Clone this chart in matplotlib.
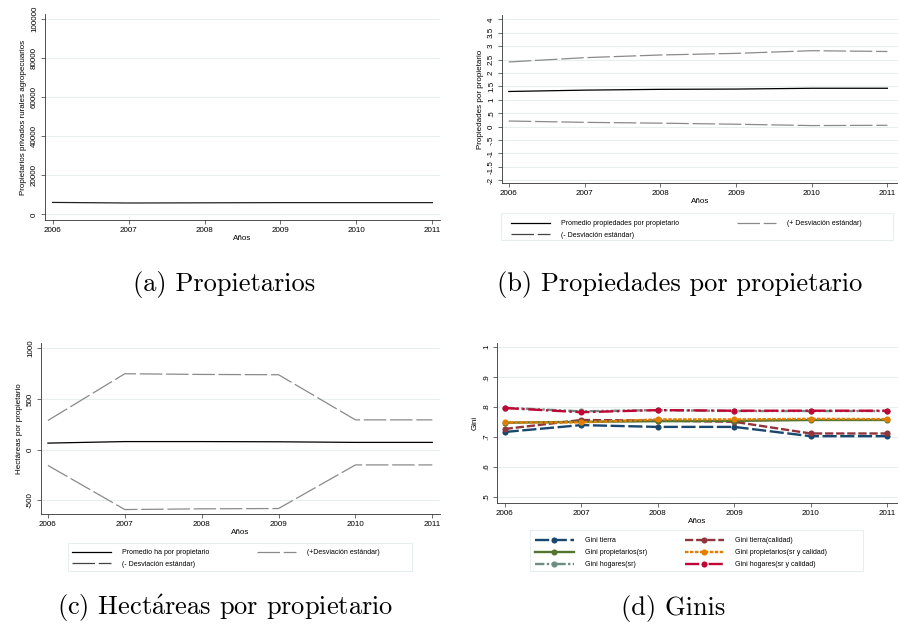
import matplotlib.pyplot as plt
from matplotlib.lines import Line2D
from matplotlib.patches import Rectangle

years = [2006, 2007, 2008, 2009, 2010, 2011]

# (a) Propietarios
propietarios = [6100, 5800, 5900, 6000, 6000, 6000]

# (b) Propiedades por propietario
prop_mean = [1.31, 1.36, 1.39, 1.40, 1.43, 1.43]
prop_plus = [2.41, 2.57, 2.67, 2.73, 2.83, 2.80]
prop_minus = [0.21, 0.16, 0.13, 0.09, 0.04, 0.05]

# (c) Hectareas por propietario
ha_mean = [65, 80, 80, 78, 72, 72]
ha_plus = [288, 749, 742, 739, 294, 294]
ha_minus = [-155, -590, -583, -580, -150, -150]

# (d) Ginis
gini_tierra = [0.717, 0.740, 0.734, 0.734, 0.703, 0.703]
gini_tierra_cal = [0.727, 0.757, 0.755, 0.751, 0.712, 0.712]
gini_prop_sr = [0.748, 0.751, 0.753, 0.754, 0.757, 0.757]
gini_prop_cal = [0.749, 0.749, 0.759, 0.759, 0.761, 0.760]
gini_hog_sr = [0.798, 0.786, 0.790, 0.787, 0.787, 0.787]
gini_hog_cal = [0.797, 0.783, 0.790, 0.788, 0.788, 0.788]

W, H = 898, 630
FONT = 'Liberation Sans'
TICK_FS = 5.8
LEG_FS = 5.0
GRID = '#e8eff1'
DASH = (0, (18, 3))

plt.rcParams['mathtext.fontset'] = 'cm'
fig = plt.figure(figsize=(W / 100, H / 100), dpi=100)


def px_axes(x0, y0, x1, y1):
    # pixel box (top-left origin) -> figure fraction
    return fig.add_axes([x0 / W, 1 - y1 / H, (x1 - x0) / W, (y1 - y0) / H])


def stata_axes(ax, ylabel, yticks, yticklabels, xlim, ylim):
    ax.set_xlim(*xlim)
    ax.set_ylim(*ylim)
    ax.set_xticks(years)
    ax.set_xticklabels([str(y) for y in years], fontsize=TICK_FS, family=FONT)
    ax.set_yticks(yticks)
    ax.set_yticklabels(yticklabels, fontsize=TICK_FS, family=FONT,
                       rotation=90, va='center')
    for s in ['top', 'right']:
        ax.spines[s].set_visible(False)
    for s in ['left', 'bottom']:
        ax.spines[s].set_color('#333333')
        ax.spines[s].set_linewidth(0.6)
    ax.tick_params(length=3, width=0.5, color='#333333', pad=2)
    ax.grid(axis='y', color=GRID, linewidth=0.8)
    ax.set_axisbelow(True)
    ax.set_ylabel(ylabel, fontsize=TICK_FS, family=FONT, labelpad=3)
    ax.set_xlabel('Años', fontsize=TICK_FS, family=FONT, labelpad=1)


def legend_box(x0, y0, x1, y1, handles, labels, hx, hy, colsp, rowsp):
    # light frame as in Stata, legend content placed without its own frame
    fig.patches.append(Rectangle((x0 / W, 1 - y1 / H), (x1 - x0) / W,
                                 (y1 - y0) / H, transform=fig.transFigure,
                                 facecolor='white', edgecolor='#e6eef0',
                                 lw=0.8))
    fig.legend(handles, labels, loc='upper left',
               bbox_to_anchor=(hx / W, 1 - hy / H), ncol=2,
               prop={'family': FONT, 'size': LEG_FS}, frameon=False,
               handlelength=5.6, columnspacing=colsp, handletextpad=1.6,
               borderpad=0, borderaxespad=0, labelspacing=rowsp)


def caption(x, y, text):
    fig.text(x / W, 1 - y / H, text, ha='center', va='center',
             fontsize=19, family='cmr10')


# ---- (a)
ax = px_axes(45, 14, 440, 220)
ax.plot(years, propietarios, color='#222222', lw=0.9)
stata_axes(ax, 'Propietarios privados rurales agropecuarios',
           [0, 20000, 40000, 60000, 80000, 100000],
           ['0', '20000', '40000', '60000', '80000', '100000'],
           (2005.9, 2011.1), (-2900, 102560))
caption(224, 285, '(a) Propietarios')

# ---- (b)
ax = px_axes(502, 15, 898, 183)
ax.plot(years, prop_mean, color='black', lw=0.9)
ax.plot(years, prop_plus, color='#8a8a8a', lw=0.9, linestyle=DASH)
ax.plot(years, prop_minus, color='#8a8a8a', lw=0.9, linestyle=DASH)
bt = [-2, -1.5, -1, -0.5, 0, 0.5, 1, 1.5, 2, 2.5, 3, 3.5, 4]
bl = ['-2', '-1.5', '-1', '-.5', '0', '.5', '1', '1.5', '2', '2.5', '3', '3.5', '4']
stata_axes(ax, 'Propiedades por propietario', bt, bl,
           (2005.91, 2011.14), (-2.1, 4.16))
h_mean = Line2D([], [], color='black', lw=0.9)
h_plus = Line2D([], [], color='#8a8a8a', lw=0.9, linestyle=DASH)
h_minus = Line2D([], [], color='#444444', lw=0.9, linestyle=DASH)
# column-major order so rows read: mean, +sd / -sd
legend_box(501, 213, 893, 240, [h_mean, h_minus, h_plus],
           ['Promedio propiedades por propietario', '(- Desviación estándar)',
            '(+ Desviación estándar)'], 511, 220, 8.3, 0.7)
caption(680, 285, '(b) Propiedades por propietario')

# ---- (c)
ax = px_axes(41, 343, 440, 514)
ax.plot(years, ha_mean, color='black', lw=0.9)
ax.plot(years, ha_plus, color='#8a8a8a', lw=0.9, linestyle=DASH)
ax.plot(years, ha_minus, color='#8a8a8a', lw=0.9, linestyle=DASH)
stata_axes(ax, 'Hectáreas por propietario', [-500, 0, 500, 1000],
           ['-500', '0', '500', '1000'], (2005.91, 2011.1), (-634, 1052))
h_mean = Line2D([], [], color='black', lw=0.9)
h_plus = Line2D([], [], color='#8a8a8a', lw=0.9, linestyle=DASH)
h_minus = Line2D([], [], color='#444444', lw=0.9, linestyle=DASH)
legend_box(68, 543, 412, 571, [h_mean, h_minus, h_plus],
           ['Promedio ha por propietario', '(- Desviación estándar)',
            '(+Desviación estándar)'], 72, 549, 6.9, 0.7)
caption(225, 608, r'(c) Hect$\acute{\mathrm{a}}$reas por propietario')

# ---- (d)
ax = px_axes(497, 343, 898, 503)
series = [
    (gini_tierra, 'Gini tierra', '#1a476f', (0, (6, 1.5))),
    (gini_tierra_cal, 'Gini tierra(calidad)', '#90353b', (0, (3.5, 1.2))),
    (gini_prop_sr, 'Gini propietarios(sr)', '#55752f', '-'),
    (gini_prop_cal, 'Gini propietarios(sr y calidad)', '#e37e00', (0, (1.5, 0.6))),
    (gini_hog_sr, 'Gini hogares(sr)', '#6e8e84', (0, (4, 1, 1, 1, 1, 1))),
    (gini_hog_cal, 'Gini hogares(sr y calidad)', '#c10534', (0, (6, 1.5, 1, 1.5))),
]
handles = []
for vals, lab, col, ls in series:
    h, = ax.plot(years, vals, color=col, lw=1.7, linestyle=ls,
                 marker='o', markersize=4.4, markeredgewidth=0)
    handles.append(h)
stata_axes(ax, 'Gini', [0.5, 0.6, 0.7, 0.8, 0.9, 1.0],
           ['.5', '.6', '.7', '.8', '.9', '1'], (2005.9, 2011.14), (0.48, 1.014))
order = [0, 2, 4, 1, 3, 5]
legend_box(530, 530, 863, 571, [handles[i] for i in order],
           [series[i][1] for i in order], 535, 537, 5.4, 0.75)
caption(673, 608, '(d) Ginis')

fig.savefig('out.png', dpi=100, facecolor='white')
